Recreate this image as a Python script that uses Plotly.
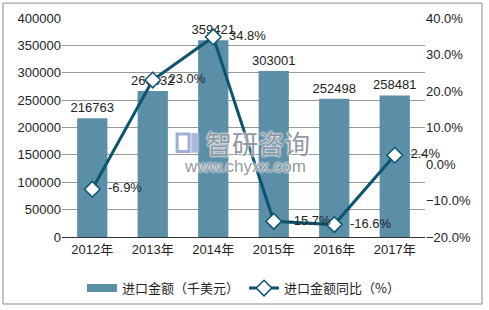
import plotly.graph_objects as go

years = ["2012年", "2013年", "2014年", "2015年", "2016年", "2017年"]
import_value = [216763, 266632, 359421, 303001, 252498, 258481]
yoy_pct = [-6.9, 23.0, 34.8, -15.7, -16.6, 2.4]

bar_name = "进口金额（千美元）"
line_name = "进口金额同比（%）"

bar_color = "#5B8FA7"
line_color = "#0D5470"
font_family = "Liberation Sans, Arial, Noto Sans CJK SC, sans-serif"

fig = go.Figure()
fig.add_trace(go.Bar(
    x=years, y=import_value, name=bar_name, showlegend=False,
    marker=dict(color=bar_color, line=dict(width=0)),
    text=[str(v) for v in import_value], textposition="outside",
    constraintext="none",
    textfont=dict(size=13, color="#222"), cliponaxis=False,
))
# legend entry for the bars (wide rectangle swatch)
fig.add_trace(go.Scatter(
    x=[None], y=[None], name=bar_name, mode="lines",
    line=dict(color=bar_color, width=8), showlegend=True,
))
fig.add_trace(go.Scatter(
    x=years, y=yoy_pct, name=line_name, yaxis="y2",
    mode="lines+markers+text",
    line=dict(color=line_color, width=3),
    marker=dict(symbol="diamond", size=12, color="white", line=dict(color=line_color, width=1.5)),
    text=["  " + f"{v:.1f}%" for v in yoy_pct], textposition="middle right",
    textfont=dict(size=13, color="#222"), cliponaxis=False,
))

# watermark
wm = "rgba(128,133,140,0.85)"
glow = "0px 0px 2px white, 0px 0px 2px white, 0px 0px 3px white"
fig.add_annotation(xref="paper", yref="paper", x=0.54, y=0.43, yanchor="middle", text="智研咨询",
                   showarrow=False, font=dict(size=26, color=wm, family="Noto Sans CJK SC", shadow=glow))
fig.add_annotation(xref="paper", yref="paper", x=0.504, y=0.32, yanchor="middle", text="www.chyxx.com",
                   showarrow=False, font=dict(size=17, color=wm, family=font_family, shadow=glow))
# simple logo blocks
fig.add_shape(type="rect", xref="paper", yref="paper", x0=0.317, x1=0.35, y0=0.39, y1=0.47,
              line=dict(color="rgba(150,165,210,0.9)", width=3), fillcolor="rgba(0,0,0,0)")
fig.add_shape(type="rect", xref="paper", yref="paper", x0=0.356, x1=0.378, y0=0.385, y1=0.475,
              line=dict(width=0), fillcolor="rgba(165,178,215,0.9)")

# outer border
fig.add_shape(type="rect", xref="paper", yref="paper", x0=-0.1625, x1=1.157, y0=-0.306, y1=1.068,
              line=dict(color="#888", width=1), fillcolor="rgba(0,0,0,0)", layer="below")

fig.update_layout(
    width=489, height=310,
    margin=dict(l=62, r=64, t=18, b=73, autoexpand=False),
    paper_bgcolor="white", plot_bgcolor="white",
    font=dict(family=font_family, size=13, color="#222"),
    bargap=0.5,
    showlegend=True,
    legend=dict(orientation="h", x=0.5, xanchor="center", y=-0.165, yanchor="top",
                font=dict(size=13, family="Noto Sans CJK SC, sans-serif"),
                itemwidth=30, tracegroupgap=0),
    xaxis=dict(showline=True, linecolor="#333", linewidth=1, ticks="", showgrid=False,
               tickfont=dict(size=13)),
    yaxis=dict(range=[0, 400000], dtick=50000, showgrid=True, gridcolor="#999", gridwidth=1,
               zeroline=False, showline=False, ticks="", tickformat="d",
               tickfont=dict(size=13)),
    yaxis2=dict(range=[-20, 40], dtick=10, overlaying="y", side="right", showgrid=False,
                zeroline=False, showline=False, ticks="", tickformat=".1f", ticksuffix="%",
                tickfont=dict(size=13)),
)

fig.write_html("out.html")
